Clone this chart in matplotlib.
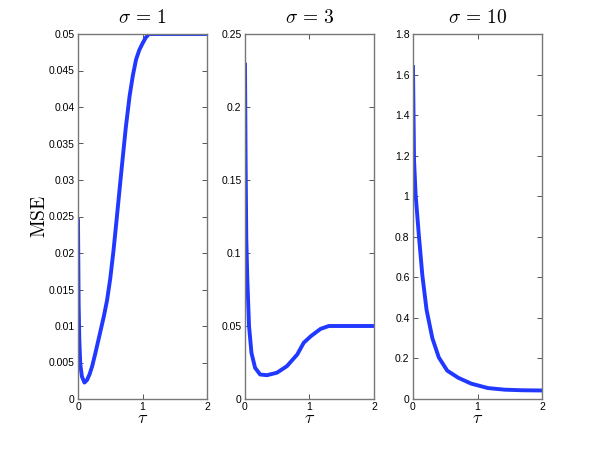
import matplotlib
matplotlib.use("Agg")
import matplotlib.pyplot as plt

plt.rcParams['mathtext.fontset'] = 'cm'
plt.rcParams['font.family'] = ['Liberation Sans', 'DejaVu Sans']

# sigma = 1
tau1 = [0.0, 0.01, 0.02, 0.035, 0.06, 0.10, 0.14, 0.18, 0.22, 0.27, 0.33, 0.40, 0.45, 0.50,
        0.55, 0.60, 0.66, 0.74, 0.80, 0.85, 0.90, 0.95, 1.00, 1.05, 1.10, 1.5, 2.0]
mse1 = [0.0245, 0.0130, 0.0082, 0.0048, 0.0031, 0.00225, 0.0026, 0.0034, 0.0045, 0.0063,
        0.0086, 0.0113, 0.0135, 0.0165, 0.0203, 0.0247, 0.0301, 0.0371, 0.0415, 0.0443,
        0.0465, 0.0478, 0.0487, 0.0495, 0.0500, 0.0500, 0.0500]

# sigma = 3
tau3 = [0.0, 0.01, 0.02, 0.036, 0.0625, 0.10, 0.156, 0.234, 0.34, 0.495, 0.65, 0.81, 0.91,
        1.02, 1.17, 1.30, 1.6, 2.0]
mse3 = [0.229, 0.160, 0.110, 0.082, 0.050, 0.0316, 0.0214, 0.0168, 0.0163, 0.0180, 0.0225,
        0.0305, 0.0385, 0.0430, 0.0480, 0.0500, 0.0500, 0.0500]

# sigma = 10
tau10 = [0.0, 0.016, 0.04, 0.09, 0.145, 0.21, 0.30, 0.40, 0.53, 0.70, 0.90, 1.16, 1.42, 1.70, 2.0]
mse10 = [1.637, 1.18, 1.01, 0.81, 0.61, 0.44, 0.30, 0.205, 0.14, 0.105, 0.076, 0.054, 0.046,
         0.043, 0.042]

titles = [r'$\sigma\,=\,1$', r'$\sigma\,=\,3$', r'$\sigma\,=\,10$']
xticks = [0, 1, 2]
xticklabels = ['0', '1', '2']
yticks1 = [0, 0.005, 0.01, 0.015, 0.02, 0.025, 0.03, 0.035, 0.04, 0.045, 0.05]
yticklabels1 = ['0', '0.005', '0.01', '0.015', '0.02', '0.025', '0.03', '0.035', '0.04', '0.045', '0.05']
yticks3 = [0, 0.05, 0.1, 0.15, 0.2, 0.25]
yticklabels3 = ['0', '0.05', '0.1', '0.15', '0.2', '0.25']
yticks10 = [0, 0.2, 0.4, 0.6, 0.8, 1.0, 1.2, 1.4, 1.6, 1.8]
yticklabels10 = ['0', '0.2', '0.4', '0.6', '0.8', '1', '1.2', '1.4', '1.6', '1.8']

fig = plt.figure(figsize=(5.99, 4.49), dpi=100)
lefts = [78 / 599, 245 / 599, 413 / 599]
width = 129 / 599
bottom = 50 / 449
height = 365 / 449

data = [(tau1, mse1, yticks1, yticklabels1),
        (tau3, mse3, yticks3, yticklabels3),
        (tau10, mse10, yticks10, yticklabels10)]

for i, (x, y, yt, ytl) in enumerate(data):
    ax = fig.add_axes([lefts[i], bottom, width, height])
    ax.plot(x, y, color='#2038ff', lw=2.8, solid_joinstyle='round', clip_on=True)
    ax.set_xlim(0, 2)
    ax.set_ylim(yt[0], yt[-1])
    ax.set_xticks(xticks)
    ax.set_xticklabels(xticklabels)
    ax.set_yticks(yt)
    ax.set_yticklabels(ytl)
    ax.tick_params(direction='in', length=3.5, width=0.7, color='#555555',
                   labelsize=7.5, top=True, right=True, pad=2.5)
    for s in ax.spines.values():
        s.set_color('#777777')
        s.set_linewidth(1.0)
    ax.set_title(titles[i], fontsize=14, pad=8)
    ax.set_xlabel(r'$\tau$', fontsize=13, labelpad=-1.5)
    if i == 0:
        ax.set_ylabel(r'$\mathrm{MSE}$', fontsize=14, labelpad=0)

fig.savefig('out.png', dpi=100)
